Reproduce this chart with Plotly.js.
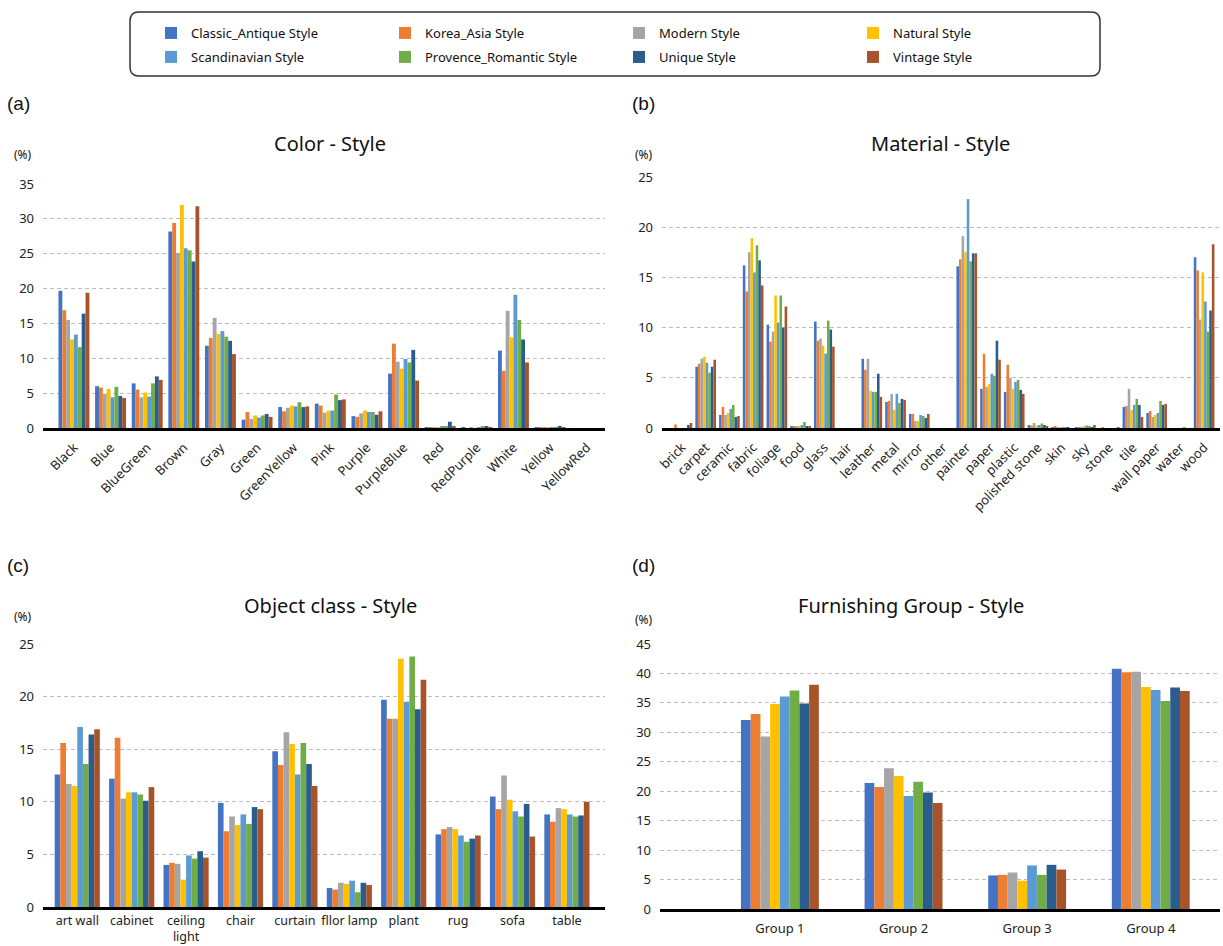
<!DOCTYPE html>
<html><head><meta charset="utf-8">
<script src="https://cdn.plot.ly/plotly-3.0.1.min.js"></script>
<style>html,body{margin:0;padding:0;background:#fff}</style>
</head><body><div id="chart" style="width:1223px;height:946px"></div>
<script>
// ---------- data ----------
const styleNames = ['Classic_Antique Style','Korea_Asia Style','Modern Style','Natural Style',
  'Scandinavian Style','Provence_Romantic Style','Unique Style','Vintage Style'];
const styleColors = ['#4472C4','#ED7D31','#A5A5A5','#FFC000','#5B9BD5','#70AD47','#2A5C8E','#A8542B'];

// (a) Color - Style
const colorCategories = ['Black','Blue','BlueGreen','Brown','Gray','Green','GreenYellow','Pink','Purple','PurpleBlue','Red','RedPurple','White','Yellow','YellowRed'];
const color_Classic    = [19.7,6.0,6.4,28.2,11.8,1.2,3.0,3.5,1.7,7.8,0.05,0.05,11.1,0.1,0.0];
const color_Korea      = [16.9,5.8,5.5,29.4,12.9,2.3,2.4,3.2,1.6,12.1,0.1,0.0,8.2,0.05,0.0];
const color_Modern     = [15.5,4.9,4.4,25.1,15.8,1.3,2.9,2.2,2.1,9.5,0.05,0.05,16.8,0.1,0.0];
const color_Natural    = [12.7,5.6,5.1,32.0,13.5,1.8,3.2,2.5,2.5,8.5,0.05,0.0,13.0,0.05,0.0];
const color_Scand      = [13.4,4.4,4.5,25.8,13.9,1.5,3.1,2.5,2.3,9.9,0.2,0.05,19.1,0.1,0.0];
const color_Provence   = [11.6,5.9,6.4,25.5,13.1,1.8,3.7,4.8,2.3,9.4,0.3,0.2,15.5,0.1,0.0];
const color_Unique     = [16.4,4.6,7.4,23.9,12.5,2.0,3.0,4.0,1.9,11.2,0.9,0.2,12.7,0.3,0.0];
const color_Vintage    = [19.4,4.3,6.9,31.8,10.6,1.6,3.1,4.1,2.4,6.8,0.3,0.05,9.4,0.05,0.0];

// (b) Material - Style
const materialCategories = ['brick','carpet','ceramic','fabric','foliage','food','glass','hair','leather','metal','mirror','other','painter','paper','plastic','polished stone','skin','sky','stone','tile','wall paper','water','wood'];
const material_Classic  = [0.0,6.1,1.3,16.2,10.3,0.2,10.6,0.0,6.9,2.6,1.4,0.0,16.1,3.9,3.6,0.3,0.05,0.1,0.0,2.1,1.5,0.0,17.0];
const material_Korea    = [0.35,6.4,2.1,13.6,8.6,0.2,8.7,0.0,5.8,2.7,1.4,0.0,16.8,7.4,6.3,0.25,0.2,0.1,0.1,2.2,1.7,0.0,15.7];
const material_Modern   = [0.0,6.9,1.3,17.5,9.6,0.2,8.9,0.0,6.9,3.4,0.7,0.0,19.1,4.1,5.0,0.5,0.05,0.1,0.0,3.9,1.1,0.0,10.8];
const material_Natural  = [0.0,7.1,1.5,18.9,13.2,0.2,8.2,0.0,3.7,1.8,0.7,0.0,17.5,4.4,3.9,0.25,0.05,0.15,0.0,1.8,1.3,0.0,15.5];
const material_Scand    = [0.0,6.5,1.9,15.5,10.5,0.3,7.4,0.0,3.6,3.4,1.3,0.0,22.8,5.4,4.6,0.3,0.05,0.25,0.0,2.3,1.5,0.0,12.6];
const material_Provence = [0.0,5.5,2.3,18.2,13.2,0.6,10.7,0.0,3.6,2.5,1.2,0.0,16.6,5.2,4.8,0.45,0.05,0.15,0.0,2.9,2.7,0.1,9.6];
const material_Unique   = [0.3,6.1,1.1,16.7,10.0,0.2,9.8,0.0,5.4,2.9,1.0,0.0,17.4,8.7,3.8,0.3,0.05,0.1,0.0,2.3,2.3,0.0,11.7];
const material_Vintage  = [0.5,6.8,1.2,14.2,12.1,0.2,8.1,0.0,3.1,2.8,1.4,0.0,17.4,6.8,3.4,0.2,0.0,0.3,0.05,1.1,2.4,0.0,18.3];

// (c) Object class - Style
const objectCategories = ['art wall','cabinet','ceiling<br>light','chair','curtain','fllor lamp','plant','rug','sofa','table'];
const object_Classic  = [12.6,12.2,4.0,9.9,14.8,1.8,19.7,6.9,10.5,8.8];
const object_Korea    = [15.6,16.1,4.2,7.2,13.5,1.65,17.9,7.4,9.3,8.1];
const object_Modern   = [11.7,10.3,4.1,8.6,16.6,2.3,17.9,7.6,12.5,9.4];
const object_Natural  = [11.5,10.9,2.6,7.8,15.5,2.2,23.6,7.4,10.2,9.3];
const object_Scand    = [17.1,10.9,4.9,8.8,12.6,2.5,19.5,6.8,9.1,8.8];
const object_Provence = [13.6,10.7,4.6,7.9,15.6,1.4,23.8,6.2,8.6,8.6];
const object_Unique   = [16.4,10.1,5.3,9.5,13.6,2.3,18.8,6.5,9.8,8.7];
const object_Vintage  = [16.9,11.4,4.7,9.3,11.5,2.1,21.6,6.8,6.7,10.0];

// (d) Furnishing Group - Style
const groupCategories = ['Group 1','Group 2','Group 3','Group 4'];
const group_Classic  = [32.1,21.4,5.7,40.8];
const group_Korea    = [33.1,20.7,5.8,40.2];
const group_Modern   = [29.3,23.9,6.2,40.3];
const group_Natural  = [34.8,22.6,4.8,37.7];
const group_Scand    = [36.1,19.2,7.4,37.2];
const group_Provence = [37.1,21.6,5.8,35.3];
const group_Unique   = [34.9,19.8,7.5,37.6];
const group_Vintage  = [38.1,18.0,6.7,37.0];

// ---------- build ----------
const W = 1223, H = 946;
const FONT = 'Noto Sans, Lato, sans-serif';
const px = v => v / W, py = v => 1 - v / H;

function panelTraces(cats, series, xa, ya, fill, showLegend) {
  const n = series.length, w = fill / n;
  return series.map((vals, i) => ({
    type: 'bar', x: cats, y: vals, xaxis: xa, yaxis: ya,
    name: styleNames[i], legendgroup: styleNames[i], showlegend: showLegend,
    legend: i < 4 ? 'legend' : 'legend2',
    marker: {color: styleColors[i], line: {width: 0}},
    width: w, offset: -fill / 2 + i * w,
    hovertemplate: '%{x}: %{y}%<extra>' + styleNames[i] + '</extra>'
  }));
}

const data = [].concat(
  panelTraces(colorCategories, [color_Classic,color_Korea,color_Modern,color_Natural,color_Scand,color_Provence,color_Unique,color_Vintage], 'x', 'y', 0.845, true),
  panelTraces(materialCategories, [material_Classic,material_Korea,material_Modern,material_Natural,material_Scand,material_Provence,material_Unique,material_Vintage], 'x2', 'y2', 0.87, false),
  panelTraces(objectCategories, [object_Classic,object_Korea,object_Modern,object_Natural,object_Scand,object_Provence,object_Unique,object_Vintage], 'x3', 'y3', 0.83, false),
  panelTraces(groupCategories, [group_Classic,group_Korea,group_Modern,group_Natural,group_Scand,group_Provence,group_Unique,group_Vintage], 'x4', 'y4', 0.63, false)
);

function xaxis(domain, anchor, range, angle, standoff, fsize) {
  return {domain, anchor, range, type: 'category', showgrid: false, zeroline: false,
    showline: true, linecolor: '#000', linewidth: 2.5, ticks: '', tickangle: angle,
    tickfont: {family: FONT, size: fsize || 13, color: '#222'}, ticklabelstandoff: standoff, fixedrange: true};
}
function yaxis(domain, anchor, range) {
  return {domain, anchor, range, dtick: 5, showgrid: true, gridcolor: '#bdbdbd', griddash: '4px,3px',
    gridwidth: 1, zeroline: false, showline: false, ticks: '',
    tickfont: {family: FONT, size: 13, color: '#222'}, ticklabelstandoff: 8, fixedrange: true};
}

const boxL = 130, boxR = 1100, boxT = 12, boxB = 76, r = 9;
const boxPath = `M ${px(boxL + r)} ${py(boxT)} L ${px(boxR - r)} ${py(boxT)} Q ${px(boxR)} ${py(boxT)} ${px(boxR)} ${py(boxT + r)} ` +
  `L ${px(boxR)} ${py(boxB - r)} Q ${px(boxR)} ${py(boxB)} ${px(boxR - r)} ${py(boxB)} ` +
  `L ${px(boxL + r)} ${py(boxB)} Q ${px(boxL)} ${py(boxB)} ${px(boxL)} ${py(boxB - r)} ` +
  `L ${px(boxL)} ${py(boxT + r)} Q ${px(boxL)} ${py(boxT)} ${px(boxL + r)} ${py(boxT)} Z`;

function ann(text, x, y, size, family, xanchor) {
  return {text, xref: 'paper', yref: 'paper', x: px(x), y: py(y), xanchor: xanchor || 'center', yanchor: 'middle',
    showarrow: false, font: {family: family || FONT, size, color: '#111'}};
}

function legendRow(yPix) {
  return {orientation: 'h', x: px(151), xanchor: 'left', y: py(yPix), yanchor: 'middle',
    entrywidth: 189, entrywidthmode: 'pixels', bgcolor: 'rgba(0,0,0,0)', borderwidth: 0,
    font: {family: FONT, size: 13, color: '#111'}, traceorder: 'normal'};
}

const layout = {
  width: W, height: H, margin: {l: 0, r: 0, t: 0, b: 0},
  paper_bgcolor: '#fff', plot_bgcolor: 'rgba(0,0,0,0)',
  barmode: 'overlay', showlegend: true,
  xaxis:  xaxis([px(43), px(605)], 'y', [-0.845, 14.5], -45, 4),
  yaxis:  yaxis([py(428), py(184)], 'x', [0, 35]),
  xaxis2: xaxis([px(662), px(1220)], 'y2', [-0.84, 22.67], -45, 4),
  yaxis2: yaxis([py(428), py(177)], 'x2', [0, 25]),
  xaxis3: xaxis([px(43), px(605)], 'y3', [-0.63, 9.7], 0, 0, 12.5),
  yaxis3: yaxis([py(907), py(644)], 'x3', [0, 25]),
  xaxis4: xaxis([px(660), px(1220)], 'y4', [-0.97, 3.56], 0, 6),
  yaxis4: yaxis([py(909), py(644)], 'x4', [0, 45]),
  legend: legendRow(33),
  legend2: legendRow(57),
  shapes: [{type: 'path', xref: 'paper', yref: 'paper', path: boxPath,
    line: {color: '#333', width: 1.5}, fillcolor: 'rgba(0,0,0,0)'}],
  annotations: [
    ann('(a)', 5, 103, 19, 'Liberation Sans, Arial, sans-serif', 'left'),
    ann('(b)', 630, 103, 19, 'Liberation Sans, Arial, sans-serif', 'left'),
    ann('(c)', 5, 565, 19, 'Liberation Sans, Arial, sans-serif', 'left'),
    ann('(d)', 630, 565, 19, 'Liberation Sans, Arial, sans-serif', 'left'),
    ann('Color - Style', 330, 143, 20),
    ann('Material - Style', 940, 143, 20),
    ann('Object class - Style', 330, 605, 20),
    ann('Furnishing Group - Style', 911, 605, 20),
    ann('(%)', 23, 154, 12),
    ann('(%)', 644, 154, 12),
    ann('(%)', 23, 616, 12),
    ann('(%)', 644, 619, 12)
  ]
};

Plotly.newPlot('chart', data, layout, {displayModeBar: false, responsive: false});
</script></body></html>
